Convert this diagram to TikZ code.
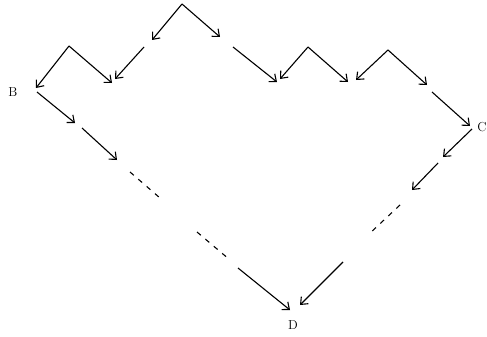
\documentclass[tikz,border=0pt]{standalone}
\usetikzlibrary{arrows.meta}
\tikzset{
  arr/.style={line width=1.1pt, -{Straight Barb[length=6pt,width=10pt,line width=1.1pt]}},
  dsh/.style={line width=1.1pt, dash pattern=on 5pt off 6pt},
  lbl/.style={inner sep=0pt, font=\fontsize{13}{15}\selectfont}
}
\begin{document}
\begin{tikzpicture}[x=1pt,y=-1pt]
\useasboundingbox (0,0) rectangle (487,337);
% coordinates
\coordinate (t) at (182,4);
\coordinate (t1) at (152,40);
\coordinate (t2) at (220,37);
\coordinate (p1) at (69,46);
\coordinate (b) at (36,88);
\coordinate (p1r) at (112,83);
\coordinate (s1) at (144,47);
\coordinate (s1e) at (115,79);
\coordinate (s2) at (233,47);
\coordinate (s2e) at (277,82);
\coordinate (p2) at (308,47);
\coordinate (p2l) at (280,79);
\coordinate (p2r) at (348,82);
\coordinate (p3) at (388,50);
\coordinate (p3l) at (356,80);
\coordinate (p3r) at (427,85);
\coordinate (s3) at (432,92);
\coordinate (c) at (470,126);
\coordinate (c0) at (472,129);
\coordinate (c1) at (443,157);
\coordinate (s4) at (438,163);
\coordinate (s4e) at (412,190);
\coordinate (r1) at (400,205);
\coordinate (r2) at (368,235);
\coordinate (s5) at (343,262);
\coordinate (d2) at (300,305);
\coordinate (b0) at (37,92);
\coordinate (b1) at (75,123);
\coordinate (s6) at (82,128);
\coordinate (s6e) at (117,160);
\coordinate (l1) at (130,172);
\coordinate (l2) at (160,198);
\coordinate (l3) at (197,232);
\coordinate (l4) at (230,260);
\coordinate (s7) at (238,268);
\coordinate (d1) at (290,310);
% labels
\node[lbl] (B) at (13,92) {B};
\node[lbl] (C) at (482,127) {C};
\node[lbl] (D) at (293,325) {D};
% arrows
\draw[arr] (t) -- (t1);
\draw[arr] (t) -- (t2);
\draw[arr] (p1) -- (b);
\draw[arr] (p1) -- (p1r);
\draw[arr] (s1) -- (s1e);
\draw[arr] (s2) -- (s2e);
\draw[arr] (p2) -- (p2l);
\draw[arr] (p2) -- (p2r);
\draw[arr] (p3) -- (p3l);
\draw[arr] (p3) -- (p3r);
\draw[arr] (s3) -- (c);
\draw[arr] (c0) -- (c1);
\draw[arr] (s4) -- (s4e);
\draw[dsh] (r1) -- (r2);
\draw[arr] (s5) -- (d2);
\draw[arr] (b0) -- (b1);
\draw[arr] (s6) -- (s6e);
\draw[dsh] (l1) -- (l2);
\draw[dsh] (l3) -- (l4);
\draw[arr] (s7) -- (d1);
\end{tikzpicture}
\end{document}
